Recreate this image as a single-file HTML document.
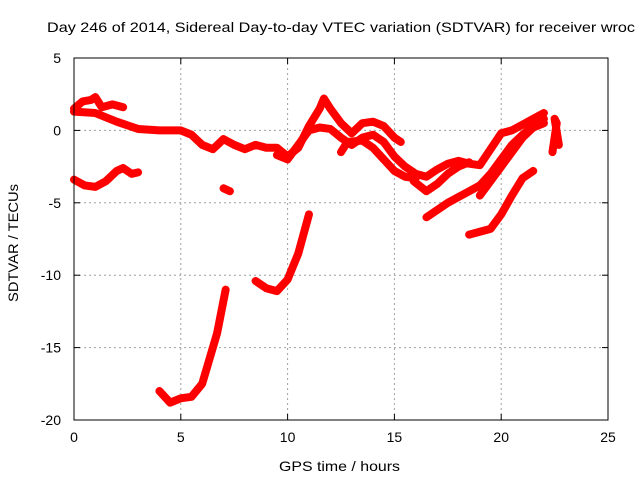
<!DOCTYPE html>
<html><head><meta charset="utf-8"><style>
body{margin:0;background:#fff;width:640px;height:480px;overflow:hidden}
svg{font-family:"Liberation Sans",sans-serif;font-size:13px}
</style></head><body>
<svg id="chart" width="640" height="480" xmlns="http://www.w3.org/2000/svg">
<text x="47" y="32" fill="#000" font-size="14" textLength="588" lengthAdjust="spacingAndGlyphs">Day 246 of 2014, Sidereal Day-to-day VTEC variation (SDTVAR) for receiver wroc</text>
<g id="grid"></g>
<g id="series"></g>
<rect x="74" y="58" width="534" height="362" fill="none" stroke="#000" stroke-width="1"/>
<g id="ticks"></g>
<text x="279" y="471" font-size="14" textLength="121" lengthAdjust="spacingAndGlyphs">GPS time / hours</text>
<text transform="translate(18,302) rotate(-90)" font-size="14" textLength="118" lengthAdjust="spacingAndGlyphs">SDTVAR / TECUs</text>
</svg>
<script>
const xTicks=[0,5,10,15,20,25];
const yTicks=[5,0,-5,-10,-15,-20];
const segTopA=[[0,1.5],[0.4,2],[0.8,2.1],[1,2.3],[1.3,1.6],[1.8,1.8],[2.3,1.6]];
const segMain=[[0,1.3],[1,1.2],[2,0.6],[3,0.1],[4,0],[5,0],[5.5,-0.3],[6,-1],[6.5,-1.3],[7,-0.6],[7.5,-1],[8,-1.3],[8.5,-1],[9,-1.2],[9.5,-1.2],[10,-1.8],[10.5,-1.2],[11,0.3],[11.5,1.5],[11.7,2.2],[12,1.5],[12.5,0.5],[13,-0.2],[13.5,0.5],[14,0.6],[14.5,0.3],[15,-0.5],[15.3,-0.8]];
const segSecond=[[9.5,-1.7],[10,-2],[10.5,-1],[11,0],[11.5,0.2],[12,0.1],[12.5,-0.5],[13,-1],[13.5,-0.5],[14,-0.3],[14.5,-0.8],[15,-1.8],[15.5,-2.5],[16,-3],[16.5,-3.2],[17,-2.7],[17.5,-2.3],[18,-2.1],[18.5,-2.3],[19,-2.4],[19.5,-1.3],[20,-0.2],[20.5,0],[21,0.4],[21.5,0.8],[22,1.2]];
const segThird=[[12.5,-1.5],[12.8,-0.8],[13.5,-0.7],[14,-1.2],[14.5,-2],[15,-2.8],[15.5,-3.2],[16,-3.3]];
const segE=[[15.9,-3.5],[16.5,-4.2],[17,-3.7],[17.5,-3],[18,-2.5],[18.5,-2.2]];
const segF=[[16.5,-6],[17,-5.5],[17.5,-5],[18,-4.6],[18.5,-4.2],[19,-3.8],[19.5,-3],[20,-2],[20.5,-1],[21,-0.3],[21.5,0.3],[22,0.8]];
const segG=[[18.5,-7.2],[19,-7],[19.5,-6.8],[20,-5.8],[20.5,-4.5],[21,-3.3],[21.5,-2.8]];
const segH=[[19,-4.5],[19.5,-3.5],[20,-2.5],[20.5,-1.5],[21,-0.5],[21.5,0.2],[22,0.5]];
const segEnd=[[22.4,-1.5],[22.5,-0.5],[22.6,0.5],[22.5,0.8],[22.7,-1]];
const segLowLeft=[[0,-3.4],[0.5,-3.8],[1,-3.9],[1.5,-3.5],[2,-2.8],[2.3,-2.6],[2.7,-3],[3,-2.9]];
const segBlob=[[7,-4],[7.3,-4.2]];
const segK=[[4,-18],[4.5,-18.8],[5,-18.5],[5.5,-18.4],[6,-17.5],[6.3,-16],[6.7,-14],[7.1,-11]];
const segL=[[8.5,-10.4],[9,-10.9],[9.5,-11.1],[10,-10.3],[10.5,-8.5],[11,-5.8]];
const segments=[segTopA,segMain,segSecond,segThird,segE,segF,segG,segH,segEnd,segLowLeft,segBlob,segK,segL];
const NS="http://www.w3.org/2000/svg";
const X0=74,X1=608,Y0=420,Y1=58;
const sx=v=>X0+(v-0)/(25-0)*(X1-X0);
const sy=v=>Y0-(v+20)/(25)*(Y0-Y1);
const grid=document.getElementById('grid'),ticks=document.getElementById('ticks'),ser=document.getElementById('series');
function mk(t,a){const e=document.createElementNS(NS,t);for(const k in a)e.setAttribute(k,a[k]);return e;}
xTicks.forEach(v=>{const x=sx(v);
 if(v>0&&v<25){const g=mk('line',{x1:x,x2:x,y1:Y1,y2:Y0,stroke:'#a0a0a0','stroke-dasharray':'2,3'});
 
 grid.appendChild(g);}
 const t1=mk('line',{x1:x,x2:x,y1:Y0,y2:Y0-6,stroke:'#000'});ticks.appendChild(t1);
 const t2=mk('line',{x1:x,x2:x,y1:Y1,y2:Y1+6,stroke:'#000'});ticks.appendChild(t2);
 const l=mk('text',{x:x,y:442,'text-anchor':'middle','font-size':14});l.textContent=v;
 
 ticks.appendChild(l);});
yTicks.forEach(v=>{const y=sy(v);
 if(v<5&&v>-20){const g=mk('line',{x1:X0,x2:X1,y1:y,y2:y,stroke:'#a0a0a0','stroke-dasharray':'2,3'});
 
 grid.appendChild(g);}
 const t1=mk('line',{x1:X0,x2:X0+6,y1:y,y2:y,stroke:'#000'});ticks.appendChild(t1);
 const t2=mk('line',{x1:X1,x2:X1-6,y1:y,y2:y,stroke:'#000'});ticks.appendChild(t2);
 const l=mk('text',{x:61,y:y+5,'text-anchor':'end','font-size':14});l.textContent=v;
 
 ticks.appendChild(l);});
segments.forEach(s=>{const p=mk('polyline',{points:s.map(d=>sx(d[0])+','+sy(d[1])).join(' '),fill:'none',stroke:'#ff0000','stroke-width':8,'stroke-linejoin':'round','stroke-linecap':'round'});
 
 ser.appendChild(p);});
</script>
</body></html>
